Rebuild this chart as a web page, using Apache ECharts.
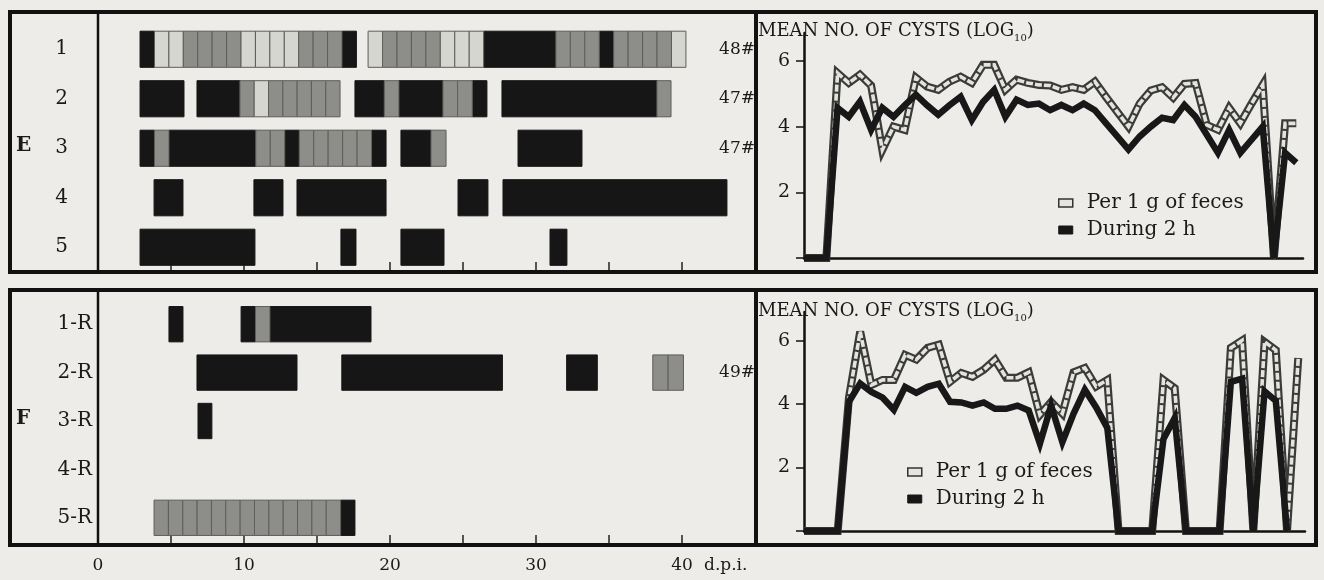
<!DOCTYPE html>
<html><head><meta charset="utf-8">
<script src="https://cdn.jsdelivr.net/npm/echarts@6/dist/echarts.min.js"></script>
<style>html,body{margin:0;padding:0;background:#edece8;}#c{width:1324px;height:580px;}</style>
</head><body><div id="c"></div>
<script>
// ---------- DATA ----------
// Left panels: runs of daily cells [startDay, endDay, cellLevels]; B = black, M = mid grey, L = light grey
const rowsE = ['1', '2', '3', '4', '5'];
const rowsF = ['1-R', '2-R', '3-R', '4-R', '5-R'];
const hashE = ['48#', '47#', '47#', '', ''];
const hashF = ['', '49#', '', '', ''];

const cellsE1 = [[2.88, 17.7, 'BLLMMMMLLLLMMMB'], [18.5, 40.27, 'LMMMMLLLBBBBBMMMBMMMML']];
const cellsE2 = [[2.88, 5.89, 'BBB'], [6.78, 16.58, 'BBBMLMMMMM'], [17.6, 26.64, 'BBMBBBMMB'], [27.67, 39.25, 'BBBBBBBBBBBM']];
const cellsE3 = [[2.88, 19.73, 'BMBBBBBBMMBMMMMMB'], [20.75, 23.84, 'BBM'], [28.77, 33.15, 'BBBB']];
const cellsE4 = [[3.84, 5.82, 'BB'], [10.68, 12.67, 'BB'], [13.63, 19.73, 'BBBBBB'], [24.66, 26.71, 'BB'], [27.74, 43.08, 'BBBBBBBBBBBBBBBB']];
const cellsE5 = [[2.88, 10.75, 'BBBBBBBB'], [16.64, 17.67, 'B'], [20.75, 23.7, 'BBB'], [30.96, 32.12, 'B']];

const cellsF1 = [[4.86, 5.82, 'B'], [9.8, 18.7, 'BMBBBBBBB']];
const cellsF2 = [[6.78, 13.63, 'BBBBBBB'], [16.7, 27.7, 'BBBBBBBBBBB'], [32.1, 34.2, 'BB'], [38.0, 40.1, 'MM']];
const cellsF3 = [[6.85, 7.8, 'B']];
const cellsF4 = [];
const cellsF5 = [[3.84, 17.6, 'MMMMMMMMMMMMMB']];

// Right panels: mean no. of cysts (log10) per day post infection
const days = [0,1,2,3,4,5,6,7,8,9,10,11,12,13,14,15,16,17,18,19,20,21,22,23,24,25,26,27,28,29,30,31,32,33,34,35,36,37,38,39,40,41,42,43,44];
const ePer1g = [0,0,0,5.63,5.33,5.58,5.25,3.29,4.0,3.9,5.49,5.22,5.12,5.37,5.52,5.33,5.88,5.88,5.12,5.43,5.33,5.27,5.25,5.12,5.2,5.12,5.37,4.9,4.45,4.0,4.7,5.1,5.2,4.88,5.3,5.33,4.05,3.9,4.57,4.1,4.7,5.27,0,4.1,4.1];
const eDuring2h = [0,0,0,4.57,4.3,4.76,3.9,4.57,4.3,4.65,4.97,4.65,4.36,4.65,4.91,4.2,4.75,5.12,4.3,4.82,4.66,4.7,4.5,4.66,4.5,4.7,4.5,4.1,3.7,3.3,3.7,4.0,4.27,4.2,4.66,4.3,3.75,3.2,3.9,3.2,3.6,4.0,0,3.2,2.9];
const fPer1g = [0,0,0,0,4.2,6.28,4.6,4.76,4.76,5.55,5.4,5.77,5.87,4.7,4.98,4.86,5.08,5.4,4.83,4.83,5.0,3.66,4.07,3.7,5.0,5.14,4.55,4.76,0,0,0,0,4.76,4.5,0,0,0,0,5.77,6.0,0,5.96,5.7,0,5.45];
const fDuring2h = [0,0,0,0,4.07,4.65,4.38,4.2,3.82,4.54,4.35,4.54,4.64,4.07,4.05,3.95,4.05,3.85,3.85,3.95,3.8,2.75,3.95,2.8,3.7,4.45,3.9,3.25,0,0,0,0,2.9,3.56,0,0,0,0,4.7,4.8,0,4.4,4.1,0,null];

const dayTicks = [0, 10, 20, 30, 40];
const yLabel = 'MEAN NO. OF CYSTS (LOG';

// ---------- BUILD ----------
const SERIF = 'DejaVu Serif';
const INK = '#1a1a1a';
const LEVEL = { B: 3, M: 2, L: 1 };
const FILL = { 3: '#161616', 2: '#8d8d89', 1: '#d6d6d0' };

// one rect per grey cell; consecutive black cells are merged into one solid block
function cellData(rows) {
  const out = [];
  rows.forEach((runs, r) => runs.forEach(([s, e, pat]) => {
    const w = (e - s) / pat.length;
    let i = 0;
    while (i < pat.length) {
      let j = i + 1;
      if (pat[i] === 'B') { while (j < pat.length && pat[j] === 'B') j++; }
      out.push([s + i * w, s + j * w, r, LEVEL[pat[i]]]);
      i = j;
    }
  }));
  return out;
}
function cellSeries(rows, xi, yi) {
  return {
    type: 'custom', xAxisIndex: xi, yAxisIndex: yi, data: cellData(rows),
    encode: { x: [0, 1], y: 2 }, silent: true,
    renderItem: (params, api) => {
      const a = api.coord([api.value(0), api.value(2)]);
      const b = api.coord([api.value(1), api.value(2)]);
      const h = api.size([0, 1])[1] * 0.73;
      const lv = api.value(3);
      const black = lv === 3;
      return {
        type: 'rect', z2: black ? 1 : 2,
        shape: { x: a[0], y: a[1] - h / 2, width: b[0] - a[0], height: h },
        style: { fill: FILL[lv], stroke: black ? FILL[3] : '#5e5e5a', lineWidth: 1 }
      };
    }
  };
}
const pairs = (vals) => days.map((d, i) => [d, vals[i]]);
function ribbon(per, dur, xi, yi) {
  const common = { type: 'line', xAxisIndex: xi, yAxisIndex: yi, showSymbol: false, symbol: 'none', silent: true };
  return [
    Object.assign({}, common, { name: 'edge', data: pairs(per), z: 2,
      lineStyle: { color: '#3b3b39', width: 8, join: 'miter', miterLimit: 4 } }),
    Object.assign({}, common, { name: 'Per 1 g of feces', data: pairs(per), z: 3,
      itemStyle: { color: '#e4e4de' },
      lineStyle: { color: '#e4e4de', width: 3.6, type: [7, 2], join: 'miter', miterLimit: 4 } }),
    Object.assign({}, common, { name: 'During 2 h', data: pairs(dur), z: 4,
      itemStyle: { color: '#161616' },
      lineStyle: { color: '#181818', width: 6.5, join: 'miter', miterLimit: 4 } })
  ];
}
function leftX(grid, showLabels) {
  return {
    type: 'value', gridIndex: grid, min: 0, max: 45.07, interval: 5,
    offset: showLabels ? 3 : 0,
    axisLine: { show: false },
    axisTick: { show: true, inside: true, length: 10, lineStyle: { color: '#222', width: 1.5 } },
    splitLine: { show: false },
    axisLabel: {
      show: showLabels, margin: 12, showMaxLabel: false,
      fontFamily: SERIF, fontSize: 17, color: INK,
      formatter: (v) => dayTicks.indexOf(v) >= 0 ? String(v) : ''
    }
  };
}
function rightX(grid) {
  return {
    type: 'value', gridIndex: grid, min: 0, max: 44.6,
    axisLine: { show: true, lineStyle: { color: '#111', width: 2.5 } },
    axisTick: { show: false }, axisLabel: { show: false }, splitLine: { show: false }
  };
}
function rowY(grid, cats, margin, size) {
  return {
    type: 'category', gridIndex: grid, data: cats, inverse: true,
    axisLine: { show: false }, axisTick: { show: false }, splitLine: { show: false },
    axisLabel: { margin: margin, fontFamily: SERIF, fontSize: size, color: INK }
  };
}
function hashY(grid, cats) {
  return {
    type: 'category', gridIndex: grid, data: cats, inverse: true, position: 'right',
    axisLine: { show: false }, axisTick: { show: false }, splitLine: { show: false },
    axisLabel: { inside: true, margin: 1, fontFamily: SERIF, fontSize: 17, color: INK }
  };
}
function rightY(grid, max) {
  return {
    type: 'value', gridIndex: grid, min: 0, max: max, interval: 2,
    axisLine: { show: true, lineStyle: { color: '#111', width: 2.5 } },
    axisTick: { show: true, length: 8, lineStyle: { color: '#111', width: 1.5 } },
    splitLine: { show: false },
    axisLabel: { margin: 14, showMaxLabel: false, fontFamily: SERIF, fontSize: 19, color: INK,
      formatter: (v) => v === 0 ? '' : String(v) }
  };
}
function legendAt(left, top) {
  return {
    orient: 'vertical', left: left, top: top, itemWidth: 14, itemHeight: 8, itemGap: 7,
    selectedMode: false,
    textStyle: { fontFamily: SERIF, fontSize: 20, color: INK, lineHeight: 20, padding: [0, 0, 0, 9] },
    data: [
      { name: 'Per 1 g of feces', icon: 'rect', itemStyle: { color: '#e6e6e0', borderColor: '#333', borderWidth: 1.5 } },
      { name: 'During 2 h', icon: 'rect', itemStyle: { color: '#161616', borderColor: '#161616', borderWidth: 1 } }
    ]
  };
}
function titleText(top) {
  return {
    type: 'text', left: 758, top: top, z: 50,
    style: {
      text: '{a|' + yLabel + '}{s|10}{a|)}',
      rich: {
        a: { fontFamily: SERIF, fontSize: 18, fill: INK, lineHeight: 20, verticalAlign: 'bottom' },
        s: { fontFamily: SERIF, fontSize: 10, fill: INK, lineHeight: 20, verticalAlign: 'bottom', padding: [0, 0, -3, 0] }
      }
    }
  };
}
const frame = (x, y, w, h, lw) => ({ type: 'rect', z: 100, silent: true,
  shape: { x: x, y: y, width: w, height: h }, style: { fill: 'none', stroke: '#111', lineWidth: lw } });
const vline = (x, y1, y2, lw) => ({ type: 'line', z: 100, silent: true,
  shape: { x1: x, y1: y1, x2: x, y2: y2 }, style: { stroke: '#111', lineWidth: lw } });

const option = {
  backgroundColor: '#edece8',
  animation: false,
  grid: [
    { left: 98, top: 24.5, width: 658, height: 247.5 },
    { left: 98, top: 300, width: 658, height: 242 },
    { left: 804, top: 33, width: 499, height: 225 },
    { left: 804, top: 312, width: 501, height: 219 }
  ],
  xAxis: [leftX(0, false), leftX(1, true), rightX(2), rightX(3)],
  yAxis: [
    rowY(0, rowsE, 30, 20), hashY(0, hashE),
    rowY(1, rowsF, 6, 20), hashY(1, hashF),
    rightY(2, 6.85), rightY(3, 6.9)
  ],
  legend: [legendAt(1053, 188), legendAt(902, 457)],
  series: [
    cellSeries([cellsE1, cellsE2, cellsE3, cellsE4, cellsE5], 0, 0),
    cellSeries([cellsF1, cellsF2, cellsF3, cellsF4, cellsF5], 1, 2)
  ].concat(ribbon(ePer1g, eDuring2h, 2, 4), ribbon(fPer1g, fDuring2h, 3, 5)),
  graphic: [
    frame(10, 12, 1306, 260, 4),
    frame(10, 290, 1306, 255, 4),
    vline(756, 12, 272, 4), vline(756, 290, 545, 4),
    vline(98, 12, 272, 2.5), vline(98, 290, 545, 2.5),
    titleText(22), titleText(302),
    { type: 'text', left: 16, top: 136, z: 50, style: { text: 'E', fontFamily: SERIF, fontWeight: 'bold', fontSize: 20, fill: INK } },
    { type: 'text', left: 16, top: 409, z: 50, style: { text: 'F', fontFamily: SERIF, fontWeight: 'bold', fontSize: 20, fill: INK } },
    { type: 'text', left: 704, top: 557, z: 50, style: { text: 'd.p.i.', fontFamily: SERIF, fontSize: 17, fill: INK } }
  ]
};
const chart = echarts.init(document.getElementById('c'), null, { renderer: 'canvas' });
chart.setOption(option);
</script>
</body></html>
